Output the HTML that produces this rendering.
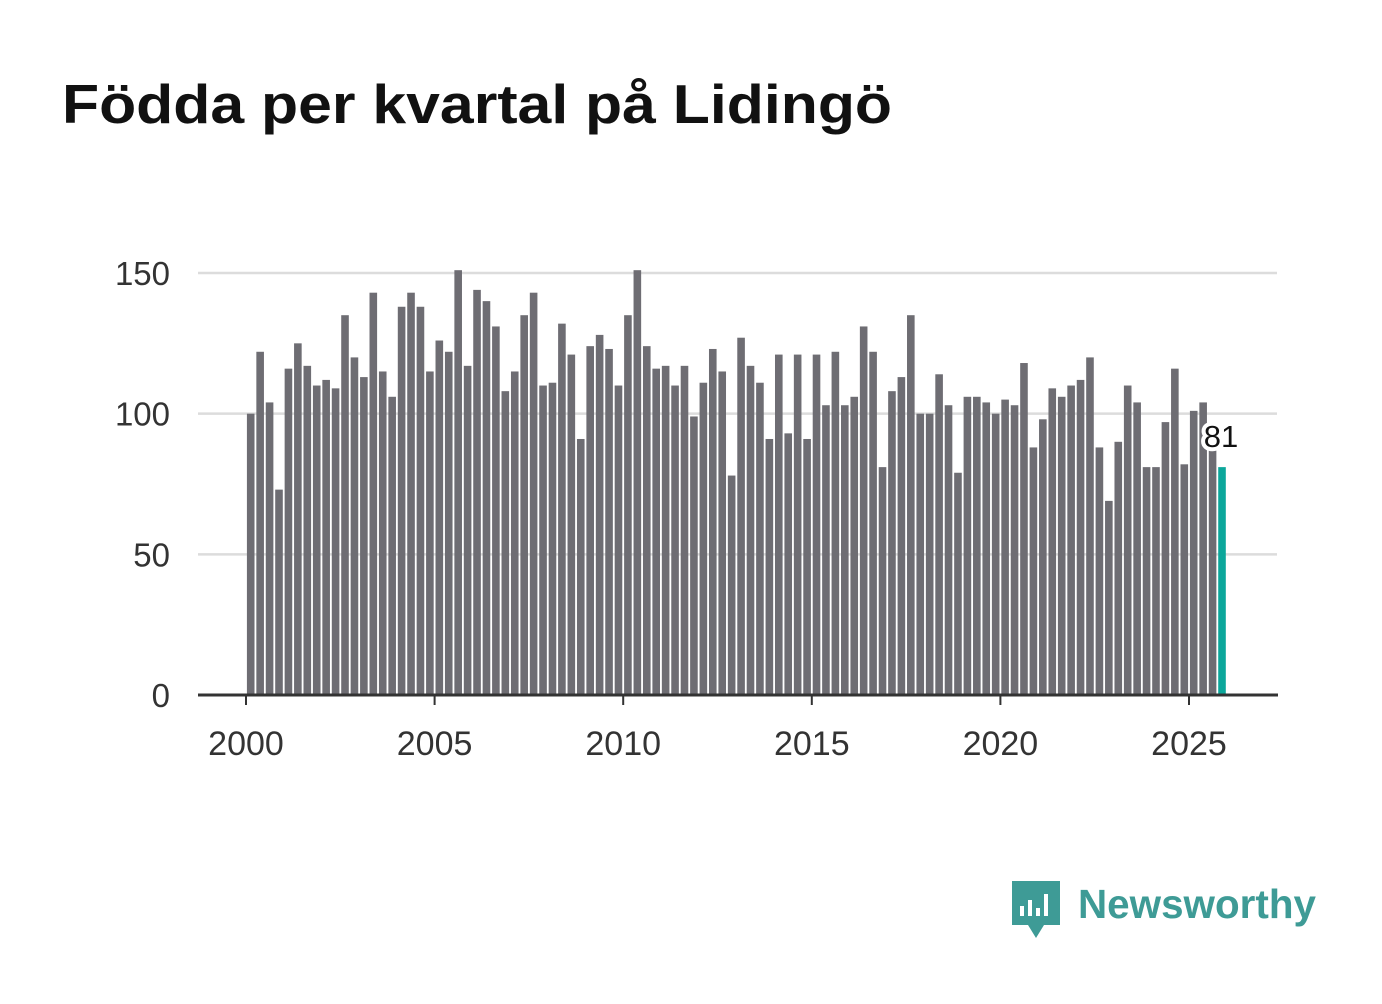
<!DOCTYPE html>
<html><head><meta charset="utf-8"><style>
body{margin:0;background:#fff;font-family:"Liberation Sans","DejaVu Sans",sans-serif;}
</style></head><body>
<svg width="1382" height="999" viewBox="0 0 1382 999" xmlns="http://www.w3.org/2000/svg">
<text x="62" y="123" font-size="55" font-weight="bold" fill="#111" font-family="Liberation Sans, sans-serif" textLength="830" lengthAdjust="spacingAndGlyphs">Födda per kvartal på Lidingö</text>
<g id="grid"></g>
<g id="bars"></g>
<g id="xaxis"></g>
<g>
<path d="M1012 881 h48 v44 h-16 l-8 13 l-8 -13 h-16 z" fill="#3e9b96"/>
<rect x="1020" y="906" width="4" height="10" fill="#fff"/>
<rect x="1028" y="900" width="4" height="16" fill="#fff"/>
<rect x="1036" y="908" width="4" height="8" fill="#fff"/>
<rect x="1044" y="894" width="4" height="22" fill="#fff"/>
<text x="1078" y="918" font-size="41" font-weight="bold" fill="#3e9b96" font-family="Liberation Sans, sans-serif" textLength="238" lengthAdjust="spacingAndGlyphs">Newsworthy</text>
</g>
</svg>
<script>
const years = [2000,2005,2010,2015,2020,2025];
const yTicks = [0,50,100,150];
const startYear = 2000;
const values = [100,122,104,73, 116,125,117,110, 112,109,135,120, 113,143,115,106,
138,143,138,115, 126,122,151,117, 144,140,131,108, 115,135,143,110,
111,132,121,91, 124,128,123,110, 135,151,124,116, 117,110,117,99,
111,123,115,78, 127,117,111,91, 121,93,121,91, 121,103,122,103,
106,131,122,81, 108,113,135,100, 100,114,103,79, 106,106,104,100,
105,103,118,88, 98,109,106,110, 112,120,88,69, 90,110,104,81,
81,97,116,82, 101,104,88,81];
const NS="http://www.w3.org/2000/svg";
const y = v => 695 - v*(422/150);
const x = t => 246 + (t-2000)*(943/25);
function mk(tag, attrs, parent){const e=document.createElementNS(NS,tag);for(const k in attrs)e.setAttribute(k,attrs[k]);parent.appendChild(e);return e;}
const grid=document.getElementById('grid'), bars=document.getElementById('bars'), xa=document.getElementById('xaxis');
yTicks.forEach(v=>{
  if(v>0){const l=mk('line',{x1:198,x2:1277,y1:y(v),y2:y(v),stroke:'#dcdcdc','stroke-width':2.5},grid);
  
  }
  const t=mk('text',{x:170,y:y(v)+12,'text-anchor':'end','font-size':33,fill:'#333'},grid);
  t.textContent=v;
  
  
});
values.forEach((v,i)=>{
  const cx=x(startYear+(i+0.5)/4);
  const last=i===values.length-1;
  const r=mk('rect',{x:cx-3.8,y:y(v),width:7.6,height:y(0)-y(v),fill:last?'#0ca79b':'#6e6d73'},bars);
  
  
  if(last){
    const lt=mk('text',{x:cx-1,y:y(v)-20,'text-anchor':'middle','font-size':31,fill:'#111',stroke:'#fff','stroke-width':8,'paint-order':'stroke','stroke-linejoin':'round'},bars);
    lt.textContent=v;
    
    
  }
});
const ax=mk('line',{x1:198,x2:1278,y1:695,y2:695,stroke:'#333','stroke-width':3},xa);


years.forEach(yr=>{
  const tk=mk('line',{x1:x(yr),x2:x(yr),y1:695,y2:705,stroke:'#333','stroke-width':2},xa);
  
  
  const t=mk('text',{x:x(yr),y:755,'text-anchor':'middle','font-size':34,fill:'#333'},xa);
  t.textContent=yr;
  
  
});
</script>
</body></html>
